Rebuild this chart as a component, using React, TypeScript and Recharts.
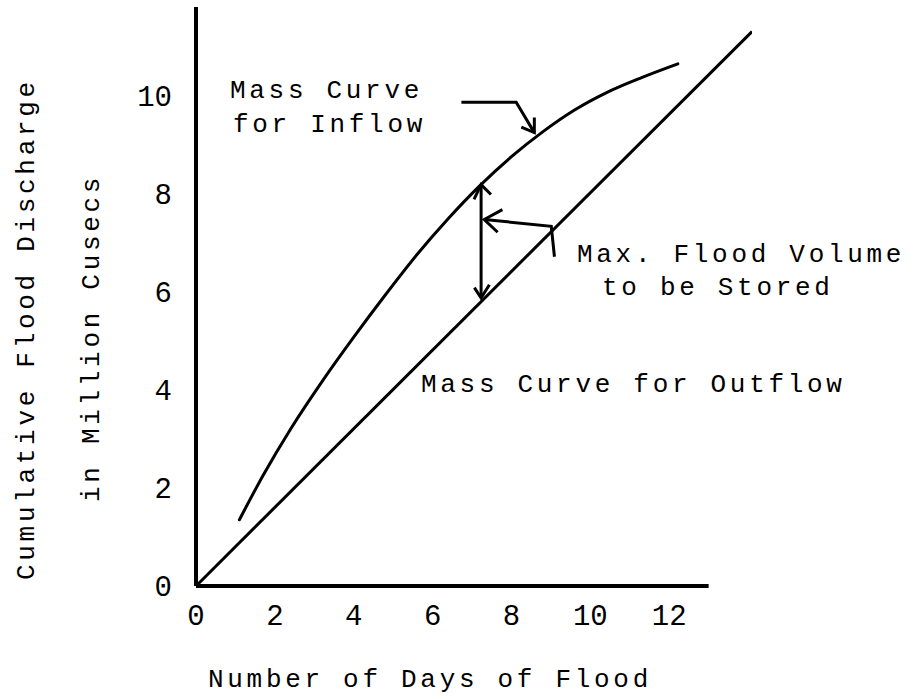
import { ComposedChart, Line, XAxis, YAxis, ReferenceLine } from "recharts";

const xTicks = [0, 2, 4, 6, 8, 10, 12];
const yTicks = [0, 2, 4, 6, 8, 10];

// mass curve for inflow (days, million cusecs)
const inflowDays = [1.1, 1.7, 2.4, 3.2, 4.0, 4.8, 5.6, 6.4, 7.2, 8.0, 8.8, 9.6, 10.4, 11.3, 12.22];
const inflowVol = [1.35, 2.25, 3.2, 4.17, 5.07, 5.93, 6.75, 7.49, 8.16, 8.75, 9.26, 9.7, 10.05, 10.36, 10.64];

// mass curve for outflow (straight line)
const outflowDays = [0, 14.1];
const outflowVol = [0, 11.3];

// annotation arrows, in data units
const labelArrow = [[6.73, 9.86], [8.12, 9.86], [8.58, 9.24]];
const labelArrowHead = [[8.25, 9.35], [8.58, 9.24], [8.58, 9.55]];
const storeArrow = [[7.23, 8.18], [7.23, 5.87]];
const storeHeadTop = [[7.05, 7.88], [7.23, 8.18], [7.48, 7.98]];
const storeHeadBottom = [[7.06, 6.08], [7.23, 5.87], [7.44, 6.14]];
const pointer = [[9.09, 6.71], [9.01, 7.33], [7.31, 7.47]];
const pointerHead = [[7.77, 7.67], [7.31, 7.47], [7.65, 7.21]];

const toRows = (xs: number[], ys: number[]) => xs.map((x, i) => ({ x, y: ys[i] }));
const pts = (p: number[][]) => p.map(([x, y]) => ({ x, y }));

const font = "'Liberation Mono', 'DejaVu Sans Mono', monospace";

const txt = {
  fontFamily: font,
  fontSize: 26,
  letterSpacing: 3.7,
  fill: "#000",
} as const;

export default function App() {
  const stroke = "#000";
  const arrows = [labelArrow, labelArrowHead, storeArrow, storeHeadTop, storeHeadBottom, pointer, pointerHead];
  return (
    <div style={{ position: "absolute", left: 0, top: 0, width: 919, height: 699, background: "#fff" }}>
      <ComposedChart width={919} height={699} margin={{ top: 7, right: 167, bottom: 53, left: 0 }}>
        <XAxis
          type="number"
          dataKey="x"
          domain={[0, 14.1]}
          ticks={xTicks}
          allowDataOverflow
          axisLine={false}
          tickLine={false}
          tickSize={0}
          tickMargin={18}
          height={60}
          tick={{ fill: "#000", fontSize: 29, fontFamily: font }}
        />
        <YAxis
          type="number"
          dataKey="y"
          domain={[0, 11.8]}
          ticks={yTicks}
          allowDataOverflow
          width={196}
          axisLine={{ stroke, strokeWidth: 4 }}
          tickLine={false}
          tickSize={0}
          tickMargin={24}
          tick={{ fill: "#000", fontSize: 29, fontFamily: font }}
        />
        <ReferenceLine
          segment={[{ x: 0, y: 0 }, { x: 13, y: 0 }]}
          stroke={stroke}
          strokeWidth={4}
          ifOverflow="visible"
        />
        <Line
          data={toRows(outflowDays, outflowVol)}
          dataKey="y"
          type="linear"
          stroke={stroke}
          strokeWidth={3}
          dot={false}
          isAnimationActive={false}
        />
        <Line
          data={toRows(inflowDays, inflowVol)}
          dataKey="y"
          type="monotone"
          stroke={stroke}
          strokeWidth={3}
          strokeLinecap="round"
          dot={false}
          isAnimationActive={false}
        />
        {arrows.map((a, i) => (
          <Line
            key={i}
            data={pts(a)}
            dataKey="y"
            type="linear"
            stroke={stroke}
            strokeWidth={3}
            strokeLinejoin="miter"
            dot={false}
            isAnimationActive={false}
          />
        ))}
      </ComposedChart>
      <svg width={919} height={699} style={{ position: "absolute", left: 0, top: 0, pointerEvents: "none" }}>
        <text x={230} y={98} style={txt}>Mass Curve</text>
        <text x={233} y={132} style={txt}>for Inflow</text>
        <text x={577} y={262} style={txt}>Max. Flood Volume</text>
        <text x={602} y={295} style={txt}>to be Stored</text>
        <text x={421} y={392} style={txt}>Mass Curve for Outflow</text>
        <text x={208} y={687} style={txt}>Number of Days of Flood</text>
        <text x={34} y={580} transform="rotate(-90 34 580)" style={txt}>Cumulative Flood Discharge</text>
        <text x={99} y={502} transform="rotate(-90 99 502)" style={txt}>in Million Cusecs</text>
      </svg>
    </div>
  );
}
